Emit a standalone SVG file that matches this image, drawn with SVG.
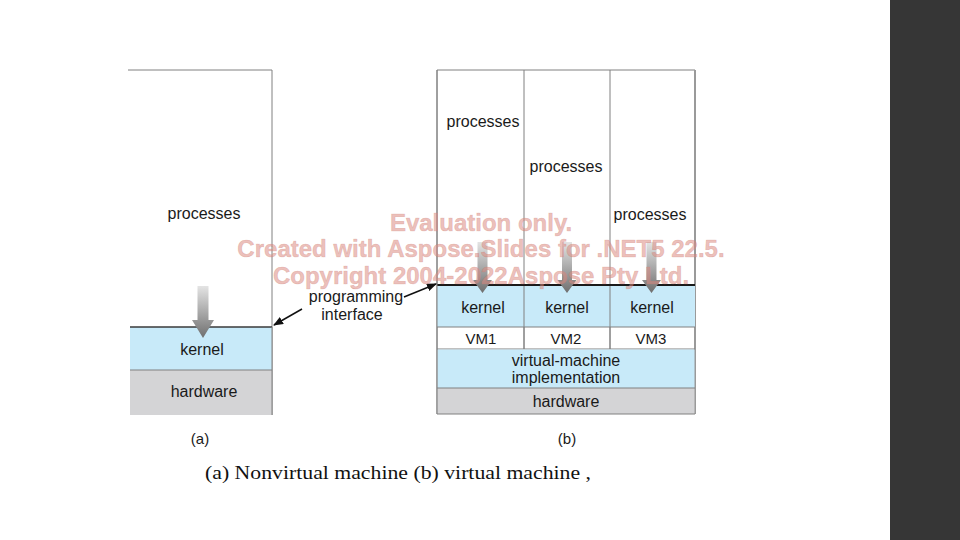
<svg xmlns="http://www.w3.org/2000/svg" width="960" height="540" viewBox="0 0 960 540">
<defs>
<style>
.t{font-family:"Liberation Sans",Arial,sans-serif;font-size:16px;fill:#1a1a1a;text-anchor:middle}
.s{font-size:15px}
.ln{stroke:#808080;stroke-width:1;fill:none}
.kb{fill:#c8eaf9}
.hw{fill:#d4d4d6}
.wm{font-family:"Liberation Sans",Arial,sans-serif;font-weight:bold;font-size:24px;fill:#dc8a80;fill-opacity:0.55;stroke:#c8766c;stroke-opacity:0.35;stroke-width:0.6;text-anchor:middle}
</style>
<linearGradient id="ga" x1="0" y1="0" x2="0" y2="1">
<stop offset="0" stop-color="#e4e4e4"/>
<stop offset="1" stop-color="#6f6f6f"/>
</linearGradient>
<marker id="ah" markerWidth="10" markerHeight="8" refX="9" refY="4" orient="auto" markerUnits="userSpaceOnUse">
<path d="M0,0 L10,4 L0,8 Z" fill="#111"/>
</marker>
</defs>
<rect x="0" y="0" width="960" height="540" fill="#fff"/>
<rect x="890" y="0" width="70" height="540" fill="#363636"/>

<g id="left-processes">
<line class="ln" x1="128" y1="70" x2="272" y2="70"/>
<line class="ln" x1="272" y1="70" x2="272" y2="415"/>
<text class="t" x="204" y="219">processes</text>
</g>
<g id="left-kernel">
<rect class="kb" x="130" y="327" width="142" height="43"/>
<line x1="130" y1="327" x2="272" y2="327" stroke="#3a3a3a" stroke-width="1.5"/>
<text class="t" x="202" y="355">kernel</text>
</g>
<g id="left-hardware">
<rect class="hw" x="130" y="370" width="142" height="45"/>
<line class="ln" x1="130" y1="370" x2="272" y2="370"/>
<line class="ln" x1="272" y1="327" x2="272" y2="415"/>
<text class="t" x="204" y="397">hardware</text>
</g>
<g id="left-arrow">
<path d="M197.5,286 H208.5 V320 H214 L203,338 L192,320 H197.5 Z" fill="url(#ga)"/>
</g>

<g id="right-box">
<line class="ln" x1="437" y1="70" x2="695" y2="70"/>
<line class="ln" x1="437" y1="70" x2="437" y2="414"/>
<line class="ln" x1="524" y1="70" x2="524" y2="349"/>
<line class="ln" x1="610" y1="70" x2="610" y2="349"/>
<line x1="695" y1="70" x2="695" y2="414" stroke="#9a9a9a" stroke-width="2"/>
</g>
<g id="processes-1"><text class="t" x="483" y="127">processes</text></g>
<g id="processes-2"><text class="t" x="566" y="172">processes</text></g>
<g id="processes-3"><text class="t" x="650" y="220">processes</text></g>
<g id="right-kernels">
<rect class="kb" x="437" y="285" width="258" height="42"/>
<line class="ln" x1="524" y1="285" x2="524" y2="349"/>
<line class="ln" x1="610" y1="285" x2="610" y2="349"/>
<line class="ln" x1="437" y1="327" x2="695" y2="327"/>
<line x1="437" y1="285" x2="695" y2="285" stroke="#1a1a1a" stroke-width="2"/>
<text class="t" x="483" y="313">kernel</text>
<text class="t" x="567" y="313">kernel</text>
<text class="t" x="652" y="313">kernel</text>
</g>
<g id="vms">
<line class="ln" x1="437" y1="349" x2="695" y2="349"/>
<text class="t s" x="481" y="344">VM1</text>
<text class="t s" x="566" y="344">VM2</text>
<text class="t s" x="651" y="344">VM3</text>
</g>
<g id="vm-implementation">
<rect class="kb" x="437.5" y="349.5" width="257" height="38.5"/>
<text class="t" x="566" y="366">virtual-machine</text>
<text class="t" x="566" y="383">implementation</text>
</g>
<g id="right-hardware">
<rect class="hw" x="437.5" y="388" width="257" height="26"/>
<line class="ln" x1="437" y1="388" x2="695" y2="388"/>
<line class="ln" x1="437" y1="414" x2="695" y2="414"/>
<line class="ln" x1="437" y1="70" x2="437" y2="414"/>
<text class="t" x="566" y="407">hardware</text>
</g>
<g id="right-arrows">
<path d="M477.5,242 H487.5 V280 H492 L482.5,293 L473,280 H477.5 Z" fill="url(#ga)"/>
<path d="M562,242 H572 V280 H576.5 L567,293 L557.5,280 H562 Z" fill="url(#ga)"/>
<path d="M646.5,242 H656.5 V280 H661 L651.5,293 L642,280 H646.5 Z" fill="url(#ga)"/>
</g>

<g id="programming-interface">
<text class="t" x="356" y="302">programming</text>
<text class="t" x="352" y="320">interface</text>
</g>
<g id="connectors">
<line x1="404" y1="297" x2="436" y2="284" stroke="#111" stroke-width="1.5" marker-end="url(#ah)"/>
<line x1="302" y1="309" x2="274" y2="325" stroke="#111" stroke-width="1.5" marker-end="url(#ah)"/>
</g>

<g id="labels">
<text class="t s" x="200" y="444">(a)</text>
<text class="t s" x="567" y="444">(b)</text>
<text x="205" y="479" font-family="'Liberation Serif','Times New Roman',serif" font-size="19" fill="#111" textLength="386" lengthAdjust="spacingAndGlyphs">(a) Nonvirtual machine (b) virtual machine ,</text>
</g>

<g id="watermark">
<text class="wm" x="481" y="231">Evaluation only.</text>
<text class="wm" x="481" y="257">Created with Aspose.Slides for .NET5 22.5.</text>
<text class="wm" x="481" y="284">Copyright 2004-2022Aspose Pty Ltd.</text>
</g>
</svg>
